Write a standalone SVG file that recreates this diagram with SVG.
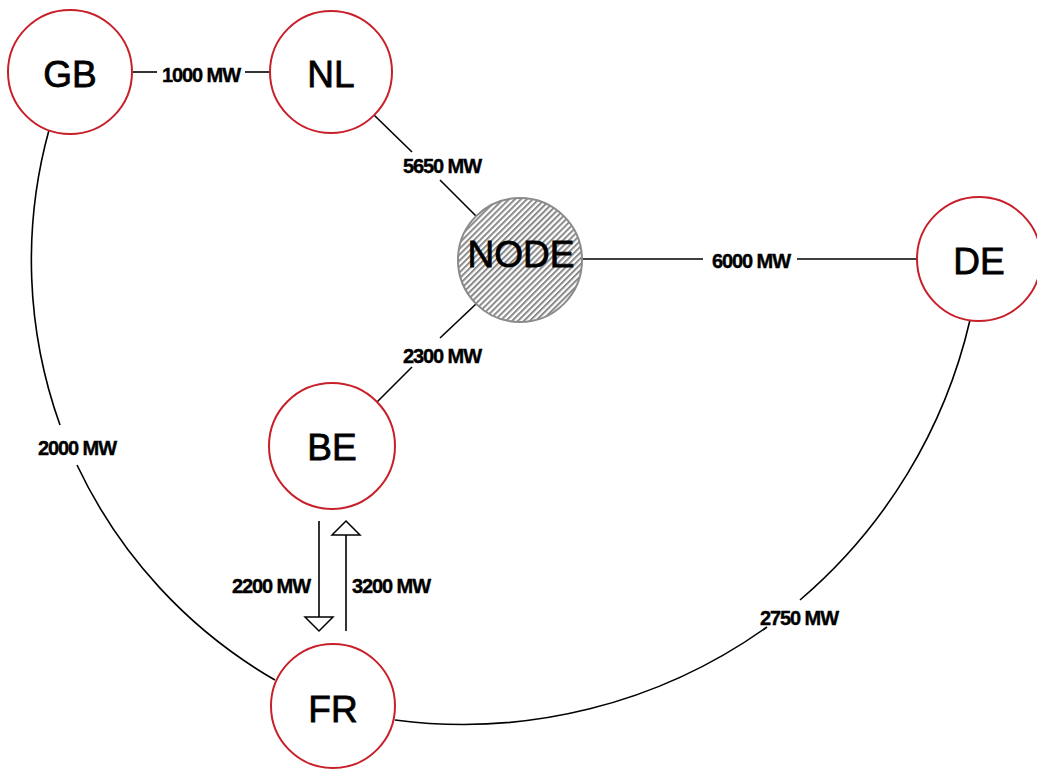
<svg xmlns="http://www.w3.org/2000/svg" width="1037" height="769" viewBox="0 0 1037 769">
  <style>
    .node { fill: #ffffff; stroke: #c8202a; stroke-width: 2; }
    .hub { fill: url(#hatch); stroke: #8a8a8a; stroke-width: 2; }
    .name { font-family: "Liberation Sans", Arial, sans-serif; font-size: 37px; fill: #000; stroke: #000; stroke-width: 0.8px; text-anchor: middle; }
    .conn { fill: none; stroke: #000; stroke-width: 1.6; }
    .lbl { font-family: "Liberation Sans", Arial, sans-serif; font-size: 20px; font-weight: bold; letter-spacing: -1.1px; fill: #000; stroke: #000; stroke-width: 0.4px; text-anchor: middle; }
  </style>
  <defs>
    <pattern id="hatch" width="4.2" height="4.2" patternUnits="userSpaceOnUse" patternTransform="rotate(45)">
      <rect width="4.2" height="4.2" fill="#ffffff"/>
      <rect width="2" height="4.2" fill="#8a8a8a"/>
    </pattern>
    <marker id="openTri" markerUnits="userSpaceOnUse" viewBox="-2 -16 18 32" refX="0" refY="0" markerWidth="18" markerHeight="32" orient="auto">
      <path d="M0,-14 L14,0 L0,14 Z" fill="#ffffff" stroke="#000" stroke-width="1.5" stroke-linejoin="miter"/>
    </marker>
  </defs>
  <rect width="1037" height="769" fill="#ffffff"/>

  <g id="connectors">
    <!-- GB - NL -->
    <line class="conn" x1="133" y1="72" x2="157" y2="72"/>
    <line class="conn" x1="245" y1="72" x2="270" y2="72"/>
    <!-- NL - NODE -->
    <line class="conn" x1="374" y1="115" x2="412" y2="152"/>
    <line class="conn" x1="440" y1="180" x2="476" y2="216"/>
    <!-- NODE - DE -->
    <line class="conn" x1="582" y1="259" x2="703" y2="259"/>
    <line class="conn" x1="797" y1="259" x2="918" y2="259"/>
    <!-- NODE - BE -->
    <line class="conn" x1="476" y1="304" x2="440" y2="338"/>
    <line class="conn" x1="412" y1="367" x2="377" y2="402"/>
    <!-- GB - FR arc -->
    <path class="conn" d="M49,130 A489,489 0 0 0 60,425"/>
    <path class="conn" d="M77,465 A489,489 0 0 0 275,680"/>
    <!-- DE - FR arc -->
    <path class="conn" d="M970,320 A523,523 0 0 1 800,600"/>
    <path class="conn" d="M767,627 A523,523 0 0 1 395,720"/>
    <!-- BE -> FR and FR -> BE -->
    <line class="conn" x1="319" y1="521" x2="319" y2="617" marker-end="url(#openTri)"/>
    <line class="conn" x1="346" y1="631" x2="346" y2="535" marker-end="url(#openTri)"/>

    <text class="lbl" x="201" y="82">1000 MW</text>
    <text class="lbl" x="442" y="173">5650 MW</text>
    <text class="lbl" x="751" y="268">6000 MW</text>
    <text class="lbl" x="442" y="363">2300 MW</text>
    <text class="lbl" x="77" y="455">2000 MW</text>
    <text class="lbl" x="271" y="593">2200 MW</text>
    <text class="lbl" x="391" y="593">3200 MW</text>
    <text class="lbl" x="799" y="625">2750 MW</text>
  </g>

  <g id="node-GB">
    <circle class="node" cx="70" cy="72" r="62"/>
    <text class="name" x="70" y="87">GB</text>
  </g>
  <g id="node-NL">
    <circle class="node" cx="331" cy="72" r="61"/>
    <text class="name" x="331" y="87">NL</text>
  </g>
  <g id="node-NODE">
    <circle class="hub" cx="520" cy="260" r="62"/>
    <text class="name" x="521" y="267">NODE</text>
  </g>
  <g id="node-DE">
    <circle class="node" cx="979" cy="259" r="62"/>
    <text class="name" x="979" y="274">DE</text>
  </g>
  <g id="node-BE">
    <circle class="node" cx="332" cy="446" r="63"/>
    <text class="name" x="332" y="460">BE</text>
  </g>
  <g id="node-FR">
    <circle class="node" cx="333" cy="706" r="62"/>
    <text class="name" x="333" y="722">FR</text>
  </g>
</svg>
